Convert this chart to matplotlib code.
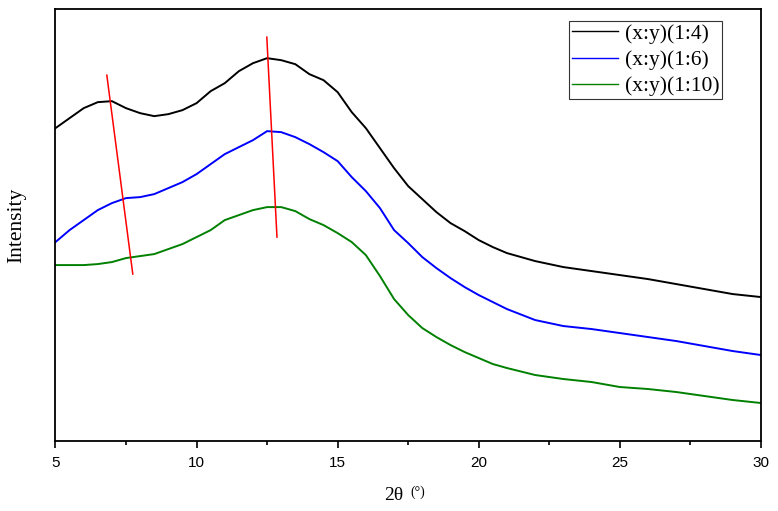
import numpy as np
import matplotlib
matplotlib.use('Agg')
import matplotlib.pyplot as plt
from matplotlib.ticker import MultipleLocator

# 2theta grid the values were read on
two_theta = [5.0, 5.5, 6.0, 6.5, 7.0, 7.5, 8.0, 8.5, 9.0, 9.5, 10.0, 10.5, 11.0,
             11.5, 12.0, 12.5, 13.0, 13.5, 14.0, 14.5, 15.0, 15.5, 16.0, 16.5,
             17.0, 17.5, 18.0, 18.5, 19.0, 19.5, 20.0, 20.5, 21.0, 22.0, 23.0,
             24.0, 25.0, 26.0, 27.0, 28.0, 29.0, 30.0]

# intensity (a.u., offset curves)
ratio_1_4 = [313, 323, 333, 339, 340, 333, 328, 325, 327, 331, 338, 350, 358,
             370, 378, 383, 381, 377, 367, 361, 349, 329, 313, 293, 273, 255,
             242, 229, 218, 210, 201, 194, 188, 180, 174, 170, 166, 162, 157,
             152, 147, 144]
ratio_1_6 = [199, 211, 221, 231, 238, 243, 244, 247, 253, 259, 267, 277, 287,
             294, 301, 310, 309, 304, 297, 289, 280, 264, 250, 233, 211, 198,
             184, 173, 163, 154, 146, 139, 132, 121, 115, 112, 108, 104, 100,
             95, 90, 86]
ratio_1_10 = [176, 176, 176, 177, 179, 183, 185, 187, 192, 197, 204, 211, 221,
              226, 231, 234, 234, 230, 222, 216, 208, 199, 186, 165, 142, 126,
              113, 104, 96, 89, 83, 77, 73, 66, 62, 59, 54, 52, 49, 45, 41, 38]

labels = ['(x:y)(1:4)', '(x:y)(1:6)', '(x:y)(1:10)']
colors = ['black', 'blue', 'green']

# red guide lines through the peak positions
guide1_x = [6.82, 7.74]
guide1_y = [366, 167]
guide2_x = [12.49, 12.85]
guide2_y = [404, 204]

fig = plt.figure(figsize=(7.78, 5.11), dpi=100)
ax = fig.add_axes([0.0713, 0.137, 0.9067, 0.845])

for series, lab, col in zip([ratio_1_4, ratio_1_6, ratio_1_10], labels, colors):
    ax.plot(two_theta, series, color=col, lw=1.4, label=lab)

ax.plot(guide1_x, guide1_y, color='red', lw=1.1)
ax.plot(guide2_x, guide2_y, color='red', lw=1.1)

ax.set_xlim(5, 30)
ax.set_ylim(0, 432)
ax.set_yticks([])
ax.xaxis.set_major_locator(MultipleLocator(5))
ax.xaxis.set_minor_locator(MultipleLocator(2.5))
ax.tick_params(axis='x', which='major', direction='out', length=5, width=1.2,
               labelsize=11, pad=6)
ax.tick_params(axis='x', which='minor', direction='out', length=3, width=1.2)
for lbl in ax.get_xticklabels():
    lbl.set_family('Liberation Sans')
for sp in ax.spines.values():
    sp.set_linewidth(1.3)

ax.set_xlabel('2θ', family='Liberation Serif', fontsize=14, labelpad=12)
ax.xaxis.label.set_position((0.48, 0))
fig.text(0.537, 0.0375, '(°)', family='Liberation Serif', fontsize=10,
         ha='center', va='center')
ax.set_ylabel('Intensity', family='Liberation Serif', fontsize=15.5, labelpad=21)

leg = ax.legend(loc='upper right', bbox_to_anchor=(0.9447, 0.972),
                prop={'family': 'Liberation Serif', 'size': 15.5},
                frameon=True, fancybox=False, edgecolor='black',
                handlelength=2.15, handletextpad=0.3, borderpad=0.12,
                labelspacing=0.28, borderaxespad=0)
leg.get_frame().set_linewidth(0.8)
for h in leg.get_lines():
    h.set_linewidth(1.0)

fig.savefig('out.png', dpi=100)
